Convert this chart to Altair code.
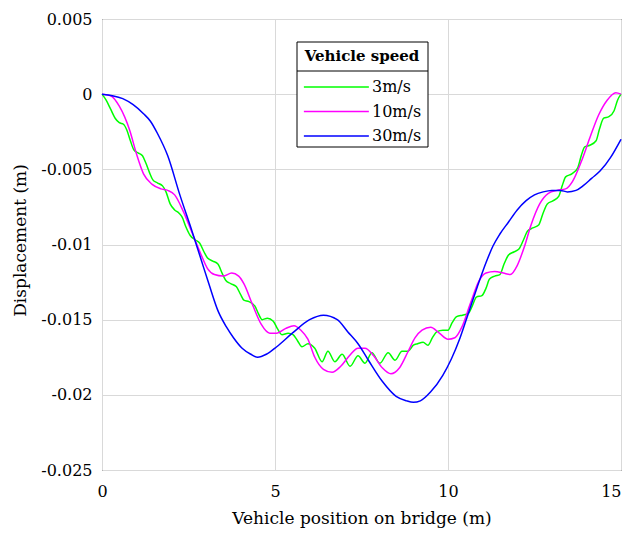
import altair as alt
import pandas as pd

# Vehicle speed 3 m/s (green)
x3 = [0, 0.12, 0.25, 0.38, 0.5, 0.62, 0.72, 0.82, 0.92, 1.04, 1.17, 1.27, 1.37, 1.47, 1.6, 1.75,
      1.85, 1.97, 2.1, 2.22, 2.32, 2.42, 2.55, 2.7, 2.82, 2.95, 3.05, 3.2, 3.35, 3.47, 3.58, 3.72,
      3.88, 4.0, 4.1, 4.25, 4.42, 4.52, 4.63, 4.78, 4.95, 5.07, 5.2, 5.38, 5.52, 5.65, 5.78, 5.95,
      6.15, 6.36, 6.53, 6.73, 6.94, 7.17, 7.4, 7.6, 7.8, 8.03, 8.27, 8.47, 8.67, 8.84, 9.0, 9.12,
      9.28, 9.42, 9.55, 9.68, 9.85, 10.0, 10.12, 10.25, 10.42, 10.58, 10.7, 10.82, 10.98, 11.1,
      11.2, 11.35, 11.5, 11.62, 11.75, 11.9, 12.05, 12.18, 12.3, 12.45, 12.62, 12.75, 12.87, 13.03,
      13.2, 13.3, 13.4, 13.58, 13.75, 13.85, 13.95, 14.1, 14.28, 14.38, 14.5, 14.65, 14.8, 14.9, 15.0]
y3 = [0, -0.0004, -0.0010, -0.0016, -0.0019, -0.0020, -0.0024, -0.0031, -0.0037, -0.0039, -0.0041,
      -0.0046, -0.0052, -0.0057, -0.0059, -0.0061, -0.0065, -0.0073, -0.0077, -0.0079, -0.0082,
      -0.0088, -0.0094, -0.0097, -0.0099, -0.0105, -0.0109, -0.0111, -0.0113, -0.0119, -0.0124,
      -0.0126, -0.0128, -0.0133, -0.0137, -0.0138, -0.0141, -0.0146, -0.0150, -0.0149, -0.0151,
      -0.0156, -0.0160, -0.0159, -0.0160, -0.0164, -0.0168, -0.0166, -0.0169, -0.0178, -0.0171,
      -0.0178, -0.0173, -0.0181, -0.0174, -0.0179, -0.0172, -0.0179, -0.0172, -0.0177, -0.0171,
      -0.0171, -0.0167, -0.0166, -0.0165, -0.0167, -0.0162, -0.0158, -0.0157, -0.0157, -0.0152,
      -0.0148, -0.0147, -0.0146, -0.0141, -0.0135, -0.0134, -0.0129, -0.0123, -0.0121, -0.0120,
      -0.0113, -0.0107, -0.0105, -0.0103, -0.0097, -0.0091, -0.0089, -0.0087, -0.0079, -0.0073,
      -0.0071, -0.0068, -0.0061, -0.0055, -0.0053, -0.0049, -0.0041, -0.0035, -0.0034, -0.0031,
      -0.0023, -0.0016, -0.0015, -0.0011, -0.0004, 0.0]

# Vehicle speed 10 m/s (magenta)
x10 = [0, 0.25, 0.5, 0.8, 1.0, 1.2, 1.45, 1.7, 1.9, 2.1, 2.35, 2.6, 2.85, 3.05, 3.25, 3.5, 3.75,
       3.95, 4.1, 4.35, 4.6, 4.85, 5.05, 5.3, 5.55, 5.75, 5.95, 6.15, 6.4, 6.65, 6.9, 7.15, 7.4,
       7.6, 7.85, 8.1, 8.35, 8.6, 8.85, 9.05, 9.25, 9.5, 9.75, 10.0, 10.2, 10.4, 10.65, 10.9, 11.1,
       11.35, 11.6, 11.8, 12.0, 12.2, 12.4, 12.65, 12.9, 13.15, 13.4, 13.6, 13.85, 14.1, 14.35,
       14.6, 14.85, 15.0]
y10 = [0, -0.0001, -0.0008, -0.0024, -0.0040, -0.0053, -0.0060, -0.0063, -0.0064, -0.0067, -0.0078,
       -0.0092, -0.0106, -0.0116, -0.0120, -0.0121, -0.0119, -0.0121, -0.0126, -0.0140, -0.0153,
       -0.0159, -0.0159, -0.0156, -0.0154, -0.0157, -0.0163, -0.0175, -0.0183, -0.0185, -0.0181,
       -0.0174, -0.0169, -0.0169, -0.0174, -0.0182, -0.0186, -0.0182, -0.0171, -0.0162, -0.0157,
       -0.0155, -0.0159, -0.0163, -0.0162, -0.0155, -0.0139, -0.0124, -0.0119, -0.0118, -0.0119,
       -0.0120, -0.0114, -0.0102, -0.0087, -0.0073, -0.0066, -0.0064, -0.0063, -0.0058, -0.0045,
       -0.0029, -0.0014, -0.0004, 0.0001, 0.0]

# Vehicle speed 30 m/s (blue)
x30 = [0, 0.3, 0.6, 0.9, 1.2, 1.4, 1.6, 1.9, 2.25, 2.6, 2.85, 3.1, 3.35, 3.6, 3.8, 4.05, 4.3, 4.5,
       4.75, 5.05, 5.5, 6.0, 6.4, 6.8, 7.1, 7.4, 7.7, 8.1, 8.5, 8.8, 9.0, 9.2, 9.5, 9.85, 10.1,
       10.35, 10.6, 10.85, 11.1, 11.3, 11.5, 11.75, 12.0, 12.25, 12.5, 12.75, 13.0, 13.25, 13.45,
       13.7, 13.9, 14.15, 14.4, 14.7, 15.0]
y30 = [0, -0.0001, -0.0003, -0.0007, -0.0013, -0.0018, -0.0026, -0.0041, -0.0067, -0.0091, -0.0109,
       -0.0127, -0.0144, -0.0155, -0.0162, -0.0169, -0.0173, -0.0175, -0.0173, -0.0168, -0.0159,
       -0.0150, -0.0147, -0.0150, -0.0158, -0.0166, -0.0177, -0.0191, -0.0201, -0.0204, -0.0205,
       -0.0204, -0.0198, -0.0187, -0.0176, -0.0162, -0.0145, -0.0128, -0.0112, -0.0101, -0.0093,
       -0.0085, -0.0077, -0.0071, -0.0067, -0.0065, -0.0064, -0.0064, -0.0065, -0.0064, -0.0061,
       -0.0056, -0.0051, -0.0042, -0.0030]

speeds = ["3m/s", "10m/s", "30m/s"]
colors = ["#00ff00", "#ff00ff", "#0000ff"]
x_ticks = [0, 5, 10, 15]
y_ticks = [0.005, 0, -0.005, -0.01, -0.015, -0.02, -0.025]

rows = []
for k, (xs, ys) in enumerate([(x3, y3), (x10, y10), (x30, y30)]):
    for a, b in zip(xs, ys):
        rows.append({"x": a, "y": b, "speed": speeds[k], "k": k})
df = pd.DataFrame(rows)

FONT = "DejaVu Serif"

# legend frame with a divider under its title (drawn below the legend content)
one_row = "datum.x == 0 && datum.k == 0"
legend_box = alt.Chart(df).mark_rect(fill="white", stroke="black", strokeWidth=1).encode(
    x=alt.value(195), x2=alt.value(326), y=alt.value(23), y2=alt.value(128)
).transform_filter(one_row)
divider = alt.Chart(df).mark_rule(color="black", strokeWidth=1).encode(
    x=alt.value(195), x2=alt.value(326), y=alt.value(52)
).transform_filter(one_row)

lines = alt.Chart(df).mark_line(strokeWidth=1.5, interpolate="monotone").encode(
    x=alt.X("x:Q",
            scale=alt.Scale(domain=[0, 15], nice=False, zero=False),
            axis=alt.Axis(values=x_ticks, title="Vehicle position on bridge (m)",
                          labelFlush=False, labelPadding=13, titlePadding=11,
                          labelAlign={"condition": {"test": "datum.value == 15", "value": "right"},
                                      "value": "center"})),
    y=alt.Y("y:Q",
            scale=alt.Scale(domain=[-0.025, 0.005], nice=False, zero=False),
            axis=alt.Axis(values=y_ticks, title="Displacement (m)", titleY=221,
                          labelExpr="'' + datum.value", labelPadding=10, titlePadding=11)),
    color=alt.Color("speed:N",
                    scale=alt.Scale(domain=speeds, range=colors),
                    legend=alt.Legend(title="Vehicle speed", orient="none",
                                      legendX=195, legendY=24,
                                      symbolType="M-1,0H7", symbolSize=264,
                                      symbolStrokeWidth=1.5, labelOffset=51,
                                      padding=6, rowPadding=7.5,
                                      titleAnchor="middle", titleAlign="center",
                                      titleFontWeight="bold", titleFont=FONT, titleFontSize=15,
                                      titleColor="black", titlePadding=14,
                                      labelFont=FONT, labelFontSize=16, labelColor="black")),
    detail="k:N",
)

chart = alt.layer(legend_box, divider, lines).properties(
    width=519, height=451,
    autosize=alt.AutoSizeParams(type="none"),
    padding={"left": 94, "top": 11, "right": 2, "bottom": 59},
).configure_view(
    stroke="black", strokeWidth=1
).configure_axis(
    labelFont=FONT, labelFontSize=16, labelColor="black",
    titleFont=FONT, titleFontSize=17, titleFontWeight="normal", titleColor="black",
    ticks=False, domain=False,
    gridColor="#d9d9d9", gridWidth=1,
)

chart.save("out.html", embed_options={"renderer": "svg", "actions": False})
